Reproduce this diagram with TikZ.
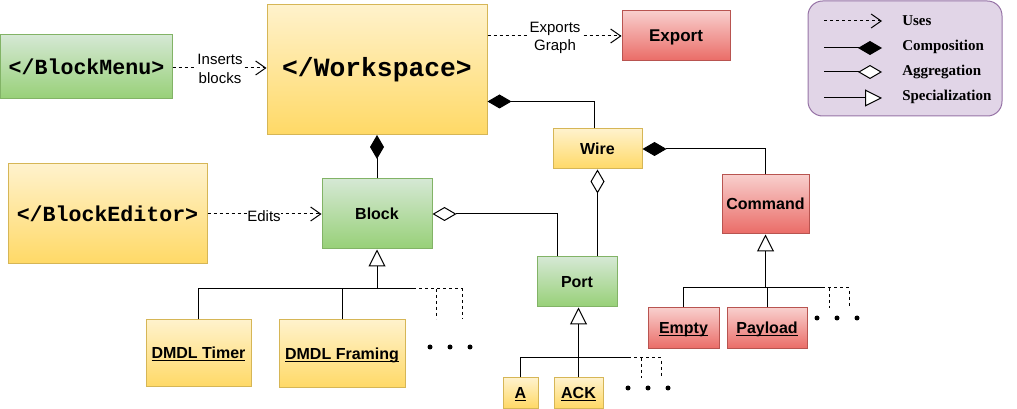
\documentclass[tikz,border=0pt]{standalone}
\usepackage{fontspec}
\setmainfont{Liberation Sans}
\newfontfamily\monof{Liberation Mono}
\newfontfamily\serf{Liberation Serif}
\usetikzlibrary{arrows.meta}
\definecolor{gT}{HTML}{D5E8D4}\definecolor{gB}{HTML}{97D077}\definecolor{gS}{HTML}{82B366}
\definecolor{yT}{HTML}{FFF2CC}\definecolor{yB}{HTML}{FFD966}\definecolor{yS}{HTML}{D6B656}
\definecolor{rT}{HTML}{F8CECC}\definecolor{rB}{HTML}{EA6B66}\definecolor{rS}{HTML}{B85450}
\definecolor{lF}{HTML}{E1D5E7}\definecolor{lS}{HTML}{9673A6}
\newcommand\ul[1]{\setbox0\hbox{#1}\leavevmode\rlap{\smash{\rule[-1.8pt]{\wd0}{0.85pt}}}\box0}
\tikzset{
  box/.style={line width=0.75pt, inner sep=0pt, text=black,
    text height=8.2pt, text depth=0pt,
    font=\bfseries\fontsize{12}{14}\selectfont},
  monobox/.style={text height=, text depth=},
  gbox/.style={box, draw=gS, top color=gT, bottom color=gB},
  ybox/.style={box, draw=yS, top color=yT, bottom color=yB},
  rbox/.style={box, draw=rS, top color=rT, bottom color=rB},
  conn/.style={line width=0.75pt, black},
  dsh/.style={dash pattern=on 2.25pt off 2.25pt},
  uses/.style={conn, dsh, -{Straight Barb[length=7.5pt,width=10.5pt]}},
  comp/.style={conn, -{Diamond[length=18pt,width=10.5pt]}},
  aggr/.style={conn, -{Diamond[open,length=18pt,width=10.5pt,fill=white]}},
  spec/.style={conn, -{Triangle[open,length=12.75pt,width=12.75pt,fill=white]}},
  lbl/.style={fill=white, inner sep=0.5pt, align=center,
    font=\fontsize{11.25}{14}\selectfont},
  legtxt/.style={anchor=west, inner sep=0pt, font=\serf\bfseries\fontsize{11.25}{13}\selectfont},
  dot/.style={fill=black, circle, inner sep=0pt, minimum size=3.75pt},
}
\begin{document}
\begin{tikzpicture}[x=0.75pt,y=-0.75pt]
\useasboundingbox (0,0) rectangle (1017,409);
% nodes
\node[gbox, monobox, minimum width=128.6pt, minimum height=48pt, font=\monof\bfseries\fontsize{16.2}{18}\selectfont] (menu) at (86.5,67) {</BlockMenu>};
\node[ybox, monobox, minimum width=165pt, minimum height=97.5pt, font=\monof\bfseries\fontsize{19.75}{22}\selectfont] (ws) at (377,69.5) {</Workspace>};
\node[rbox, minimum width=81pt, minimum height=37.5pt, text height=8.7pt, font=\bfseries\fontsize{12.75}{15}\selectfont] (export) at (676,36) {Export};
\node[draw=lS, fill=lF, line width=0.75pt, rounded corners=11pt, minimum width=145.5pt, minimum height=86.25pt] (legend) at (905,58.5) {};
\node[ybox, minimum width=66.75pt, minimum height=30pt] (wire) at (597.5,149) {Wire};
\node[rbox, minimum width=65.25pt, minimum height=44.25pt] (cmd) at (765.5,204.5) {Command};
\node[gbox, minimum width=60pt, minimum height=37.5pt] (port) at (577,282) {Port};
\node[gbox, minimum width=82.5pt, minimum height=52.5pt] (block) at (377,214) {Block};
\node[ybox, monobox, minimum width=149.25pt, minimum height=75pt, font=\monof\bfseries\fontsize{16.2}{18}\selectfont] (editor) at (107.5,214) {</BlockEditor>};
\node[ybox, minimum width=78.75pt, minimum height=50.25pt] (timer) at (198.5,353.5) {\ul{DMDL Timer}};
\node[ybox, minimum width=94.5pt, minimum height=51pt] (framing) at (342,354) {\ul{DMDL Framing}};
\node[ybox, minimum width=26.25pt, minimum height=22.5pt] (A) at (520.5,393) {\ul{A}};
\node[ybox, minimum width=36.75pt, minimum height=22.5pt] (ACK) at (578.5,393) {\ul{ACK}};
\node[rbox, minimum width=53.25pt, minimum height=30.75pt] (empty) at (683.5,328.5) {\ul{Empty}};
\node[rbox, minimum width=60pt, minimum height=30.75pt] (payload) at (767,328.5) {\ul{Payload}};
% uses connectors
\draw[uses] (menu.east |- 0,68) -- (ws.west |- 0,68);
\node[lbl] (lins) at (220,69) {Inserts\\blocks};
\draw[uses] (export.west -| ws.east) -- (export.west);
\node[lbl] (lexp) at (555,38) {Exports\\Graph};
\draw[uses] (editor.east) -- (block.west);
\node[lbl] (ledit) at (264,216) {Edits};
% composition / aggregation
\draw[comp] (wire.north -| 594,0) |- ([yshift=-24pt]ws.east);
\draw[comp] (cmd.north) |- (wire.east);
\draw[aggr] (wire.south |- port.north) -- (wire.south);
\draw[aggr] ([xshift=-15pt]port.north) |- (block.east);
\draw[comp] (block.north) -- (ws.south);
% block specialization tree
\coordinate (b1) at (413,289); \coordinate (b2) at (462,289);
\coordinate (b3) at (436,319); \coordinate (b4) at (462,319);
\draw[conn] (timer.north) |- (b1);
\draw[conn] (framing.north) -- (framing.north |- b1);
\draw[spec] (block.south |- b1) -- (block.south);
\draw[conn, dsh] (b1) -- (b2) -- (b4);
\draw[conn, dsh] (b3 |- b1) -- (b3);
\node[dot] (bd1) at (430,347) {}; \node[dot] (bd2) at (450,347) {}; \node[dot] (bd3) at (470,347) {};
% port specialization tree
\coordinate (p1) at (628,358); \coordinate (p2) at (661,358);
\coordinate (p3) at (641,378); \coordinate (p4) at (661,378);
\draw[conn] (A.north) |- (p1);
\draw[conn] (ACK.north) -- (ACK.north |- p1);
\draw[spec] (ACK.north |- p1) -- (ACK.north |- port.south);
\draw[conn, dsh] (p1) -- (p2) -- (p4);
\draw[conn, dsh] (p3 |- p1) -- (p3);
\node[dot] (pd1) at (628,388) {}; \node[dot] (pd2) at (648,388) {}; \node[dot] (pd3) at (668,388) {};
% command specialization tree
\coordinate (c1) at (822,288); \coordinate (c2) at (849,288);
\coordinate (c3) at (829,308); \coordinate (c4) at (849,308);
\draw[conn] (empty.north) |- (c1);
\draw[conn] (payload.north) -- (payload.north |- c1);
\draw[spec] (cmd.south |- c1) -- (cmd.south);
\draw[conn, dsh] (c1) -- (c2) -- (c4);
\draw[conn, dsh] (c3 |- c1) -- (c3);
\node[dot] (cd1) at (817,318) {}; \node[dot] (cd2) at (837,318) {}; \node[dot] (cd3) at (857,318) {};
% legend
\coordinate (l1a) at (824,21); \coordinate (l1b) at (882,21);
\coordinate (l2a) at (824,48); \coordinate (l2b) at (882,48);
\coordinate (l3a) at (824,72); \coordinate (l3b) at (882,72);
\coordinate (l4a) at (824,98); \coordinate (l4b) at (882,98);
\draw[uses] (l1a) -- (l1b);
\draw[comp] (l2a) -- (l2b);
\draw[aggr] (l3a) -- (l3b);
\draw[spec] (l4a) -- (l4b);
\node[legtxt] (t1) at (902,21) {Uses};
\node[legtxt] (t2) at (902,47) {Composition};
\node[legtxt] (t3) at (902,72) {Aggregation};
\node[legtxt] (t4) at (902,97) {Specialization};
\end{tikzpicture}
\end{document}
